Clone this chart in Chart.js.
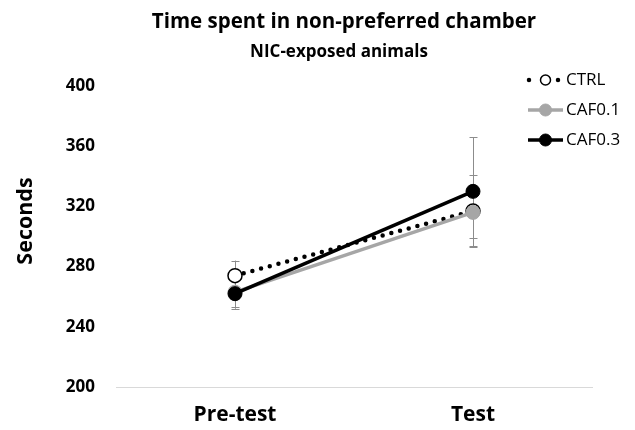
<!DOCTYPE html>
<html><head><meta charset="utf-8">
<script src="https://cdn.jsdelivr.net/npm/chart.js@4"></script>
<style>html,body{margin:0;padding:0;background:#fff}</style>
</head><body>
<canvas id="c" width="635" height="430"></canvas>
<script>
const categories = ['Pre-test', 'Test'];
const seriesNames = ['CTRL', 'CAF0.1', 'CAF0.3'];
const ctrlValues = [274, 317];
const ctrlErrors = [10, 24];
const caf01Values = [263, 316];
const caf01Errors = [10, 17];
const caf03Values = [262, 330];
const caf03Errors = [10, 36];
const yTicks = [200, 240, 280, 320, 360, 400];
const titleText = 'Time spent in non-preferred chamber';
const subtitleText = 'NIC-exposed animals';
const yAxisTitle = 'Seconds';

const FONT = '"Open Sans", Lato, sans-serif';
const errorSets = [ctrlErrors, caf01Errors, caf03Errors];

const datasets = [
  {
    label: seriesNames[0], data: ctrlValues, order: 2,
    borderColor: '#000', borderWidth: 4.5, borderDash: [0, 9], borderCapStyle: 'round',
    pointRadius: 7, pointHoverRadius: 7, pointBackgroundColor: '#fff', pointBorderColor: '#000', pointBorderWidth: 1.5,
    fill: false, tension: 0
  },
  {
    label: seriesNames[1], data: caf01Values, order: 1,
    borderColor: '#a6a6a6', borderWidth: 3.5,
    pointRadius: 7, pointHoverRadius: 7, pointBackgroundColor: '#a6a6a6', pointBorderColor: '#a6a6a6', pointBorderWidth: 1,
    fill: false, tension: 0
  },
  {
    label: seriesNames[2], data: caf03Values, order: 0,
    borderColor: '#000', borderWidth: 3.5,
    pointRadius: 7, pointHoverRadius: 7, pointBackgroundColor: '#000', pointBorderColor: '#000', pointBorderWidth: 1,
    fill: false, tension: 0
  }
];

const errorBarPlugin = {
  id: 'errorBars',
  beforeDatasetsDraw(chart) {
    const ctx = chart.ctx, ys = chart.scales.y;
    ctx.save();
    ctx.strokeStyle = '#8c8c8c';
    ctx.lineWidth = 1;
    chart.data.datasets.forEach((ds, di) => {
      const meta = chart.getDatasetMeta(di);
      const errs = errorSets[di];
      meta.data.forEach((pt, i) => {
        const v = ds.data[i], e = errs[i];
        const x = Math.round(pt.x) + 0.5;
        const yTop = ys.getPixelForValue(v + e);
        const yBot = ys.getPixelForValue(v - e);
        ctx.beginPath();
        ctx.moveTo(x, yTop); ctx.lineTo(x, yBot);
        ctx.moveTo(x - 4, Math.round(yTop) + 0.5); ctx.lineTo(x + 4, Math.round(yTop) + 0.5);
        ctx.moveTo(x - 4, Math.round(yBot) + 0.5); ctx.lineTo(x + 4, Math.round(yBot) + 0.5);
        ctx.stroke();
      });
    });
    ctx.restore();
  }
};

const titlesPlugin = {
  id: 'titles',
  afterDraw(chart) {
    const ctx = chart.ctx;
    ctx.save();
    ctx.fillStyle = '#000';
    ctx.textAlign = 'center';
    ctx.textBaseline = 'middle';
    ctx.font = 'bold 20.5px ' + FONT;
    ctx.fillText(titleText, 344, 22);
    ctx.font = 'bold 17px ' + FONT;
    ctx.fillText(subtitleText, 339, 52);
    ctx.translate(26, 221);
    ctx.rotate(-Math.PI / 2);
    ctx.font = 'bold 21.5px ' + FONT;
    ctx.fillText(yAxisTitle, 0, 0);
    ctx.restore();
  }
};

const legendPlugin = {
  id: 'customLegend',
  afterDraw(chart) {
    const ctx = chart.ctx;
    const rows = [80, 110, 140];
    const x0 = 528, x1 = 563, xm = 545.5, xt = 566;
    ctx.save();
    chart.data.datasets.forEach((ds, i) => {
      const y = rows[i];
      ctx.beginPath();
      ctx.strokeStyle = ds.borderColor;
      ctx.lineWidth = i === 0 ? 4.5 : 3.5;
      ctx.lineCap = ds.borderCapStyle || 'butt';
      if (i === 0) { ctx.setLineDash([0, 14.5]); ctx.moveTo(x0 + 1, y); ctx.lineTo(x1, y); }
      else { ctx.setLineDash([]); ctx.moveTo(x0, y); ctx.lineTo(x1, y); }
      ctx.stroke();
      ctx.setLineDash([]);
      ctx.beginPath();
      ctx.arc(xm, y, i === 0 ? 5 : 6, 0, Math.PI * 2);
      ctx.fillStyle = ds.pointBackgroundColor;
      ctx.fill();
      ctx.lineWidth = ds.pointBorderWidth;
      ctx.strokeStyle = ds.pointBorderColor;
      ctx.stroke();
      ctx.fillStyle = '#000';
      ctx.font = '17px ' + FONT;
      ctx.textAlign = 'left';
      ctx.textBaseline = 'middle';
      ctx.fillText(ds.label, xt, y);
    });
    ctx.restore();
  }
};

new Chart(document.getElementById('c'), {
  type: 'line',
  data: { labels: categories, datasets },
  options: {
    responsive: false,
    animation: false,
    devicePixelRatio: 1,
    layout: { padding: { top: 86, right: 43, bottom: 0, left: 0 } },
    plugins: { legend: { display: false }, title: { display: false }, tooltip: { enabled: false } },
    scales: {
      x: {
        type: 'category',
        offset: true,
        grid: { display: false, drawTicks: false },
        border: { display: true, color: '#d9d9d9', width: 1 },
        ticks: { color: '#000', font: { family: FONT, size: 21, weight: 'bold' }, padding: 15 },
        afterFit(s) { s.height = 43; }
      },
      y: {
        min: 200, max: 400,
        grid: { display: false, drawTicks: false },
        border: { display: false },
        afterBuildTicks(s) { s.ticks = yTicks.map(v => ({ value: v })); },
        ticks: { color: '#000', font: { family: FONT, size: 17, weight: 'bold' }, padding: 21 },
        title: { display: false, text: yAxisTitle },
        afterFit(s) { s.width = 116; }
      }
    }
  },
  plugins: [errorBarPlugin, titlesPlugin, legendPlugin]
});
</script>
</body></html>
